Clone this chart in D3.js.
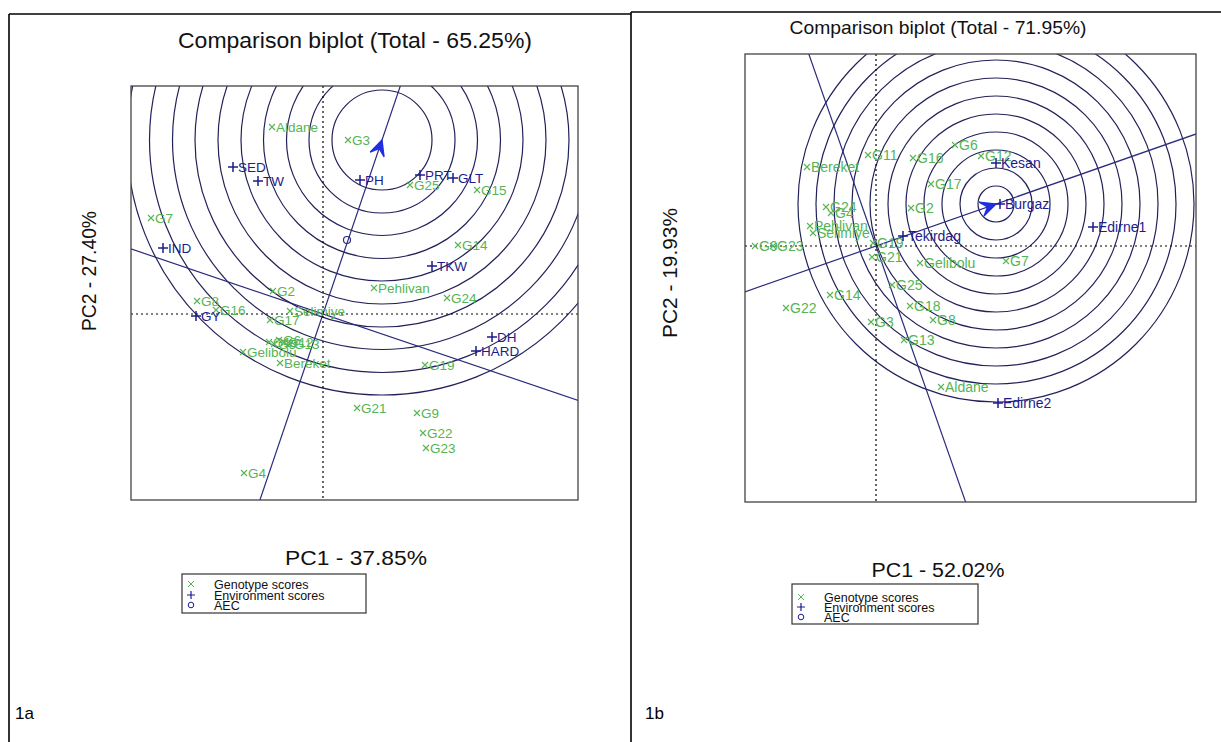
<!DOCTYPE html>
<html>
<head>
<meta charset="utf-8">
<script src="https://cdn.jsdelivr.net/npm/d3@7"></script>
<style>
  body { margin: 0; background: #fff; }
  svg { display: block; font-family: "Liberation Sans", Arial, sans-serif; }
</style>
</head>
<body>
<svg id="chart" width="1221" height="742"></svg>
<script>
// ---- panel 1a data (PC1, PC2 scores) ----
const titleA = "Comparison biplot (Total - 65.25%)";
const xLabelA = "PC1 - 37.85%";
const yLabelA = "PC2 - 27.40%";
const genotypesA = [
  ["Aldane", -1.02, 3.74], ["G3", 0.50, 3.48], ["G7", -3.44, 1.92],
  ["G8", -2.52, 0.26], ["G16", -2.14, 0.08], ["G2", -1.00, 0.46],
  ["G17", -1.06, -0.12], ["Selimiye", -0.66, 0.06], ["Gelibolu", -1.60, -0.76],
  ["Bereket", -0.86, -0.98], ["G1", -1.08, -0.56], ["G5", -0.98, -0.60],
  ["G6", -0.88, -0.52], ["G12", -0.78, -0.57], ["G13", -0.66, -0.60],
  ["G25", 1.74, 2.58], ["G15", 3.08, 2.48], ["G14", 2.70, 1.38],
  ["Pehlivan", 1.02, 0.52], ["G24", 2.48, 0.32], ["G19", 2.04, -1.02],
  ["G21", 0.68, -1.88], ["G9", 1.88, -1.98], ["G22", 2.00, -2.38],
  ["G23", 2.06, -2.68], ["G4", -1.58, -3.18]
];
const environmentsA = [
  ["SED", -1.80, 2.94], ["TW", -1.30, 2.66], ["IND", -3.20, 1.32],
  ["GY", -2.54, -0.04], ["PH", 0.74, 2.68], ["PRT", 1.94, 2.78],
  ["GLT", 2.60, 2.72], ["TKW", 2.18, 0.96], ["DH", 3.38, -0.46],
  ["HARD", 3.06, -0.74]
];
const idealA = [1.18, 3.48];
const aecMarkA = [0.48, 1.48];
const ringRadiiA = [1.00, 1.46, 1.91, 2.37, 2.82, 3.28, 3.74, 4.19, 4.65, 5.10];

// ---- panel 1b data ----
const titleB = "Comparison biplot (Total - 71.95%)";
const xLabelB = "PC1 - 52.02%";
const yLabelB = "PC2 - 19.93%";
const genotypesB = [
  ["G6", 1.975, 2.525], ["G12", 2.625, 2.25], ["G11", -0.2, 2.275],
  ["G16", 0.925, 2.2], ["Bereket", -1.725, 1.975], ["G17", 1.375, 1.55],
  ["G2", 0.875, 0.95], ["G24", -1.25, 0.975], ["G4", -1.125, 0.825],
  ["Pehlivan", -1.65, 0.5], ["Selimiye", -1.575, 0.325], ["G9", -3.025, 0.0],
  ["G23", -2.575, 0.0], ["G19", -0.075, 0.075], ["G21", -0.1, -0.275],
  ["Gelibolu", 1.1, -0.425], ["G7", 3.25, -0.375], ["G25", 0.4, -0.975],
  ["G14", -1.15, -1.225], ["G22", -2.25, -1.55], ["G18", 0.85, -1.5],
  ["G8", 1.425, -1.85], ["G3", -0.125, -1.9], ["G13", 0.7, -2.35],
  ["Aldane", 1.625, -3.525]
];
const environmentsB = [
  ["Kesan", 3.0, 2.075], ["Burgaz", 3.1, 1.05], ["Tekirdag", 0.675, 0.25],
  ["Edirne1", 5.425, 0.475], ["Edirne2", 3.05, -3.925]
];
const idealB = [3.0, 1.05];
const ringRadiiB = [0.45, 0.9, 1.35, 1.8, 2.25, 2.7, 3.15, 3.6, 4.05, 4.5, 4.95];

const legendItems = ["Genotype scores", "Environment scores", "AEC"];

// colours
const genoColor = "#55b455";
const envColor = "#1c1c8c";
const ringColor = "#22225a";
const aecColor = "#2a2a7e";
const arrowColor = "#1f2ee0";

const svg = d3.select("#chart");
const defs = svg.append("defs");

// table frame round the two figures
const drawFrame = () => {
  const frame = svg.append("g").attr("stroke", "#000").attr("stroke-width", 1.6);
  frame.append("line").attr("x1", 9).attr("y1", 14).attr("x2", 631).attr("y2", 14);
  frame.append("line").attr("x1", 631).attr("y1", 12).attr("x2", 1221).attr("y2", 12);
  frame.append("line").attr("x1", 9).attr("y1", 14).attr("x2", 9).attr("y2", 742);
  frame.append("line").attr("x1", 631).attr("y1", 12).attr("x2", 631).attr("y2", 742);
};

const drawPanel = (panel) => {
  const L = panel.layout;
  const [left, top, right, bottom] = L.box;
  const x = d3.scaleLinear().domain(L.xDomain).range([left, right]);
  const y = d3.scaleLinear().domain(L.yDomain).range([bottom, top]);
  const g = svg.append("g");

  defs.append("clipPath").attr("id", "clip-" + panel.id)
    .append("rect")
    .attr("x", left).attr("y", top)
    .attr("width", right - left).attr("height", bottom - top);

  const plot = g.append("g").attr("clip-path", `url(#clip-${panel.id})`);

  // concentric circles round the ideal entry
  const cx = x(panel.ideal[0]);
  const cy = y(panel.ideal[1]);
  plot.selectAll(".ring")
    .data(panel.rings)
    .enter()
    .append("circle")
    .attr("class", "ring")
    .attr("cx", cx)
    .attr("cy", cy)
    .attr("r", (r) => x(r) - x(0))
    .attr("fill", "none")
    .attr("stroke", ringColor)
    .attr("stroke-width", 1.2);

  // AEC abscissa and the line perpendicular to it
  const [ax, ay] = panel.ideal;
  const aecLines = [
    [[-20 * ax, -20 * ay], [20 * ax, 20 * ay]],
    [[-20 * ay, 20 * ax], [20 * ay, -20 * ax]]
  ];
  plot.selectAll(".aec")
    .data(aecLines)
    .enter()
    .append("line")
    .attr("class", "aec")
    .attr("x1", (d) => x(d[0][0])).attr("y1", (d) => y(d[0][1]))
    .attr("x2", (d) => x(d[1][0])).attr("y2", (d) => y(d[1][1]))
    .attr("stroke", aecColor)
    .attr("stroke-width", 1.2);

  // dotted zero lines
  plot.append("line")
    .attr("x1", x(0)).attr("x2", x(0)).attr("y1", top).attr("y2", bottom)
    .attr("stroke", "#000").attr("stroke-width", 1.2).attr("stroke-dasharray", "2,3");
  plot.append("line")
    .attr("x1", left).attr("x2", right).attr("y1", y(0)).attr("y2", y(0))
    .attr("stroke", "#000").attr("stroke-width", 1.2).attr("stroke-dasharray", "2,3");

  if (panel.aecMark) {
    plot.append("circle")
      .attr("cx", x(panel.aecMark[0])).attr("cy", y(panel.aecMark[1]))
      .attr("r", 3.5).attr("fill", "none")
      .attr("stroke", aecColor).attr("stroke-width", 1.2);
  }

  // genotype scores
  const geno = plot.selectAll(".geno")
    .data(panel.genotypes)
    .enter()
    .append("g")
    .attr("class", "geno")
    .attr("transform", (d) => `translate(${x(d[1])},${y(d[2])})`);
  geno.append("path")
    .attr("d", "M-3,-3L3,3M-3,3L3,-3")
    .attr("stroke", genoColor).attr("stroke-width", 1.1);
  geno.append("text")
    .attr("x", 4).attr("dy", "0.36em")
    .attr("font-size", L.labelSize).attr("fill", genoColor)
    .text((d) => d[0]);

  // environment scores
  const env = plot.selectAll(".env")
    .data(panel.environments)
    .enter()
    .append("g")
    .attr("class", "env")
    .attr("transform", (d) => `translate(${x(d[1])},${y(d[2])})`);
  env.append("path")
    .attr("d", "M-5,0H5M0,-5V5")
    .attr("stroke", envColor).attr("stroke-width", 1.5);
  env.append("text")
    .attr("x", 5).attr("dy", "0.36em")
    .attr("font-size", L.labelSize).attr("fill", envColor)
    .text((d) => d[0]);

  // arrow head on the ideal entry
  const ang = Math.atan2(cy - y(0), cx - x(0));
  const pt = (a, len) => [cx + len * Math.cos(a), cy + len * Math.sin(a)];
  const w1 = pt(ang + Math.PI - 0.45, 17);
  const w2 = pt(ang + Math.PI + 0.45, 17);
  const notch = pt(ang + Math.PI, 9);
  plot.append("path")
    .attr("d", `M${cx},${cy}L${w1}L${notch}L${w2}Z`)
    .attr("fill", arrowColor).attr("stroke", arrowColor).attr("stroke-width", 1.3);

  // plot box
  g.append("rect")
    .attr("x", left).attr("y", top)
    .attr("width", right - left).attr("height", bottom - top)
    .attr("fill", "none").attr("stroke", "#444").attr("stroke-width", 1.3);

  // titles
  g.append("text")
    .attr("x", L.title[0]).attr("y", L.title[1])
    .attr("text-anchor", "middle").attr("font-size", L.title[2])
    .attr("textLength", L.title[3]).attr("lengthAdjust", "spacingAndGlyphs")
    .attr("fill", "#111")
    .text(panel.title);
  g.append("text")
    .attr("x", L.xLabel[0]).attr("y", L.xLabel[1])
    .attr("text-anchor", "middle").attr("font-size", L.xLabel[2])
    .attr("textLength", L.xLabel[3]).attr("lengthAdjust", "spacingAndGlyphs")
    .attr("fill", "#111")
    .text(panel.xLabel);
  g.append("text")
    .attr("transform", `translate(${L.yLabel[0]},${L.yLabel[1]}) rotate(-90)`)
    .attr("text-anchor", "middle").attr("font-size", L.yLabel[2])
    .attr("textLength", L.yLabel[3]).attr("lengthAdjust", "spacingAndGlyphs")
    .attr("fill", "#111")
    .text(panel.yLabel);

  // legend
  const [lx0, ly0, lx1, ly1] = L.legend;
  const leg = g.append("g");
  leg.append("rect")
    .attr("x", lx0).attr("y", ly0).attr("width", lx1 - lx0).attr("height", ly1 - ly0)
    .attr("fill", "#fff").attr("stroke", "#333").attr("stroke-width", 1.2);
  const rows = L.legendRows;
  const sx = lx0 + 9;
  leg.append("path")
    .attr("d", `M${sx - 3},${rows[0] - 3}L${sx + 3},${rows[0] + 3}M${sx - 3},${rows[0] + 3}L${sx + 3},${rows[0] - 3}`)
    .attr("stroke", genoColor).attr("stroke-width", 1);
  leg.append("path")
    .attr("d", `M${sx - 4},${rows[1]}H${sx + 4}M${sx},${rows[1] - 4}V${rows[1] + 4}`)
    .attr("stroke", envColor).attr("stroke-width", 1.2);
  leg.append("circle")
    .attr("cx", sx).attr("cy", rows[2]).attr("r", 2.8)
    .attr("fill", "none").attr("stroke", envColor).attr("stroke-width", 1);
  leg.selectAll(".leg-text")
    .data(legendItems)
    .enter()
    .append("text")
    .attr("x", lx0 + L.legendTextDx)
    .attr("y", (d, i) => rows[i])
    .attr("dy", "0.36em")
    .attr("font-size", 12.5)
    .attr("fill", "#111")
    .text((d) => d);

  // figure tag
  g.append("text")
    .attr("x", L.tag[0]).attr("y", L.tag[1])
    .attr("font-size", 17).attr("fill", "#000")
    .text(panel.id);
};

drawFrame();

drawPanel({
  id: "1a",
  title: titleA, xLabel: xLabelA, yLabel: yLabelA,
  genotypes: genotypesA, environments: environmentsA,
  ideal: idealA, aecMark: aecMarkA, rings: ringRadiiA,
  layout: {
    box: [131, 86, 578, 500],
    xDomain: [-3.84, 5.10],
    yDomain: [-3.72, 4.56],
    labelSize: 13.5,
    title: [355, 48, 22, 354],
    xLabel: [356, 565, 20, 142],
    yLabel: [96, 271, 20, 120],
    legend: [182, 574, 366, 613],
    legendRows: [584, 595, 605],
    legendTextDx: 32,
    tag: [15, 719]
  }
});

drawPanel({
  id: "1b",
  title: titleB, xLabel: xLabelB, yLabel: yLabelB,
  genotypes: genotypesB, environments: environmentsB,
  ideal: idealB, aecMark: null, rings: ringRadiiB,
  layout: {
    box: [745, 54, 1196, 502],
    xDomain: [-3.275, 8.0],
    yDomain: [-6.4, 4.8],
    labelSize: 14,
    title: [938, 34, 19, 297],
    xLabel: [938, 577, 20, 133],
    yLabel: [677, 273, 20, 130],
    legend: [792, 584, 978, 624],
    legendRows: [597, 607, 617],
    legendTextDx: 32,
    tag: [645, 719]
  }
});
</script>
</body>
</html>
